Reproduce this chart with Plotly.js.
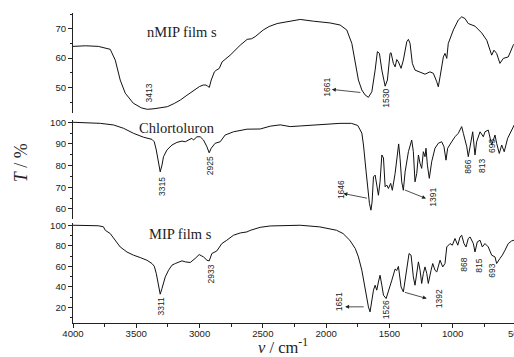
<!DOCTYPE html>
<html><head><meta charset="utf-8">
<script src="https://cdn.plot.ly/plotly-3.0.1.min.js"></script>
<style>html,body{margin:0;padding:0;overflow:hidden;background:#fff;width:514px;height:357px}</style>
</head><body><div id="chart" style="width:520px;height:357px"></div>
<script>
// nMIP film s (top panel)
const nmipWn = [4000,3900,3800,3750,3706,3666,3627,3587,3524,3460,
  3413,3360,3311,3255,3200,3151,3100,3050,3000,2971,
  2950,2939,2923,2908,2883,2870,2844,2822,2758,2679,
  2624,2590,2561,2497,2450,2387,2284,2205,2100,1969,
  1890,1837,1797,1771,1745,1718,1692,1666,1639,1613,
  1595,1579,1560,1534,1516,1495,1487,1469,1455,1442,
  1429,1408,1390,1363,1350,1337,1319,1298,1259,1219,
  1180,1153,1126,1114,1100,1074,1061,1047,1035,995,
  956,929,903,877,824,771,731,705,692,674,
  653,627,600,561,522,500];
const nmipT = [64,64.2,64,63.6,63,59.3,52.5,48,44.6,43,
  42.5,42.7,43,43.4,44.5,45.7,47.3,48.8,50.3,50.8,
  50.8,50.5,50,52.5,55.3,55.8,56.5,58.7,61,64.4,
  66.4,66.6,67.3,69.6,70.8,71.8,72.7,73.2,72.6,72,
  71.3,69.6,65,59.3,52.5,49.1,47.4,46.6,48.5,55.9,
  62.2,61.6,55.9,50.4,52.5,61.6,61.8,58.2,57,59.5,
  58.7,56.5,59.3,65.6,66.4,65,58.2,55.9,55.1,54.5,
  55.3,54.8,51.9,50.2,53.6,60.4,61.6,59.9,65,69.6,
  73,74.1,73.5,71.8,70.9,68.6,66.1,62.7,61,62.7,
  61.6,58.2,59.9,60.4,64.4,65.5];

// Chlortoluron (middle panel)
const chlWn = [4000,3784,3679,3600,3522,3443,3376,3358,3342,3329,
  3316,3311,3297,3285,3258,3218,3179,3139,3113,3087,
  3061,3048,3021,2995,2969,2942,2924,2908,2877,2837,
  2798,2732,2626,2521,2442,2363,2284,2205,2050,1890,
  1800,1750,1718,1705,1684,1670,1658,1646,1637,1626,
  1613,1600,1587,1574,1560,1547,1534,1521,1508,1490,
  1477,1455,1437,1427,1416,1403,1390,1376,1350,1324,
  1311,1298,1284,1271,1258,1245,1232,1219,1211,1200,
  1185,1166,1140,1114,1087,1069,1053,1040,1008,982,
  956,929,916,889,877,858,842,824,811,784,
  758,745,719,692,666,653,632,613,593,566,
  534,514,500];
const chlT = [100,99.5,98.75,97.2,94.9,93.1,92.1,91,87.2,82.5,
  78.7,77.1,80.2,84.1,87.2,89.5,90.7,91.3,91,91.8,
  92.6,91.8,93.3,93.3,91.8,88.7,85.9,88,90.3,91,
  94.1,95.6,96.8,96.9,98.2,98.8,98,98.3,99,99.5,
  99.5,98.5,95,89.5,77.1,69.4,62.5,59.4,63.2,74.8,
  75.6,71,66.3,72.5,84.9,83.5,70.2,71,69.4,71.8,
  68.6,76.4,86,90,83.3,72.5,68.6,77.1,86.4,91.8,
  86.4,72.5,76.4,84.9,81,78.7,86.4,84.1,88,80.2,
  74.1,81.8,88,90.3,91,88.7,82.5,88,91,93.3,
  94.9,98,94.9,88.7,84.1,91,95.6,84.9,91,95.6,
  93.3,95.6,96.4,89.5,94.1,90.3,85.6,89.5,86.4,92.6,
  96.4,98.75,99];

// MIP film s (bottom panel)
const mipWn = [4000,3900,3800,3760,3745,3706,3666,3627,3574,3522,
  3469,3416,3376,3358,3342,3329,3316,3311,3297,3271,
  3245,3218,3192,3166,3139,3113,3074,3035,3003,2969,
  2942,2924,2903,2864,2824,2785,2732,2679,2626,2600,
  2521,2442,2363,2205,2050,1918,1866,1813,1770,1745,
  1718,1700,1684,1666,1653,1639,1626,1613,1600,1587,
  1574,1560,1547,1526,1508,1481,1455,1442,1429,1408,
  1390,1363,1345,1329,1311,1298,1284,1271,1258,1245,
  1232,1219,1205,1193,1171,1158,1140,1126,1100,1079,
  1061,1047,1021,1003,982,960,942,929,911,895,
  877,863,837,824,806,784,766,745,719,692,
  666,653,627,608,587,561,534,516,500];
const mipT = [100,99.8,99.5,98.5,95.1,91.9,85.4,78.9,74,70.9,
  68.6,66,62.8,60.2,53.1,43.4,35.2,33,38.5,49.8,
  56.3,61.2,62.8,64.4,65.4,64.4,63.8,67.7,71.5,69.2,
  66,65.3,72.5,75,82.2,85.4,90.3,92.5,93.5,95,
  98,99.3,99.5,100,98.4,95.1,91.9,85.4,77.4,69.2,
  56.3,43.4,30.4,20.7,15.8,27.2,36.9,41.7,36.9,44.9,
  51.4,41.7,32,28.8,36.9,46.6,57.5,56,60,40.1,
  35.2,56.3,72.5,70.9,49.8,41.7,56.3,64.4,56.3,43.4,
  53.1,59.5,53.1,43.4,56.3,62.8,56.3,54.6,66,59.5,
  62.8,78.9,82.2,80.6,87.1,80.6,88.6,90.3,82.2,78.9,
  87.1,88.6,82.2,74,83.8,85.4,78.9,82.2,78.9,70.9,
  69.2,62.8,67.7,70.9,75.7,82.2,84.8,85.4,86];

// Panel names and peak labels
const panelNames = ["nMIP film s", "Chlortoluron", "MIP film s"];
const panelNamePos = [[3137, 68.9, 'y3'], [3177, 97.4, 'y2'], [3153, 91.3, 'y']];
const peakLabels = ["3413","1661","1530","3315","2925","1646","1391","866","813","693",
                    "3311","2933","1651","1526","1392","868","815","693"];
const peakPos = [[3397,48.0,'y3'],[1996,50.1,'y3'],[1523,46.3,'y3'],
  [3299,70.5,'y2'],[2916,79.8,'y2'],[1882,68.7,'y2'],[1151,65.4,'y2'],[875,79.3,'y2'],[773,80,'y2'],[686,89.3,'y2'],
  [3303,21.3,'y'],[2908,52.4,'y'],[1898,25.2,'y'],[1527,17.5,'y'],[1108,28.1,'y'],[911,61.6,'y'],[792,60.6,'y'],[686,56.3,'y']];
// arrows: [headWn, headT, tailWn, tailT, yref]
const arrows = [[1955,49.3,1718,48.2,'y3'],[1864,67.1,1666,64.8,'y2'],[1211,64.8,1390,69,'y2'],
  [1850,20.7,1692,20.7,'y'],[1205,28.8,1390,35.2,'y']];

const lineStyle = {color:'#111', width:1};
const traces = [
  {x:nmipWn, y:nmipT, xaxis:'x', yaxis:'y3', type:'scatter', mode:'lines', line:lineStyle, hoverinfo:'skip'},
  {x:chlWn, y:chlT, xaxis:'x', yaxis:'y2', type:'scatter', mode:'lines', line:lineStyle, hoverinfo:'skip'},
  {x:mipWn, y:mipT, xaxis:'x', yaxis:'y', type:'scatter', mode:'lines', line:lineStyle, hoverinfo:'skip'}
];

const tickFont = {family:'Liberation Sans, Arial, sans-serif', size:9.6, color:'#222'};
function yax(domain, range, dtick, minorDtick) {
  return {domain:domain, range:range, dtick:dtick, tick0:0, anchor:'x',
    showline:true, linecolor:'#222', linewidth:1, ticks:'outside', ticklen:4, tickwidth:1, tickcolor:'#222',
    minor:{dtick:minorDtick, ticks:'outside', ticklen:2, tickwidth:1, tickcolor:'#222'},
    showgrid:false, zeroline:false, tickfont:tickFont, automargin:false, fixedrange:true};
}

const annotations = [];
panelNames.forEach((t,i)=>{
  annotations.push({text:t, x:panelNamePos[i][0], y:panelNamePos[i][1], xref:'x', yref:panelNamePos[i][2],
    showarrow:false, font:{family:'Liberation Serif, Times New Roman, serif', size:14.5, color:'#222'}});
});
peakLabels.forEach((t,i)=>{
  annotations.push({text:t, x:peakPos[i][0], y:peakPos[i][1], xref:'x', yref:peakPos[i][2],
    showarrow:false, textangle:-90, font:{family:'Liberation Sans, Arial, sans-serif', size:8.5, color:'#222'}});
});
arrows.forEach(a=>{
  annotations.push({text:'', x:a[0], y:a[1], ax:a[2], ay:a[3], xref:'x', yref:a[4], axref:'x', ayref:a[4],
    showarrow:true, arrowhead:2, arrowsize:1, arrowwidth:0.8, arrowcolor:'#222', standoff:0, startstandoff:0});
});
annotations.push({text:'<i>T</i> / %', xref:'paper', yref:'paper', x:-0.117, y:0.516, textangle:-90,
  xanchor:'center', yanchor:'middle',
  showarrow:false, font:{family:'Liberation Serif, Times New Roman, serif', size:18, color:'#222'}});
annotations.push({text:'<i>ν</i> / cm<sup>-1</sup>', xref:'paper', yref:'paper', x:0.474, y:-0.077,
  xanchor:'center', yanchor:'middle',
  showarrow:false, font:{family:'Liberation Serif, Times New Roman, serif', size:16.5, color:'#222'}});

const layout = {
  width:520, height:357,
  margin:{l:73, r:4, t:13, b:34},
  paper_bgcolor:'#fff', plot_bgcolor:'#fff',
  showlegend:false,
  xaxis:{range:[4000,500], dtick:500, tick0:0, anchor:'y', showline:true, linecolor:'#222', linewidth:1,
    ticks:'outside', ticklen:4, tickwidth:1, tickcolor:'#222', ticklabelstandoff:-3, ticklabeloverflow:'allow',
    minor:{dtick:250, ticks:'outside', ticklen:3, tickwidth:1, tickcolor:'#222'},
    showgrid:false, zeroline:false, tickfont:tickFont, automargin:false, fixedrange:true},
  yaxis: yax([0, 0.322], [5, 102], 20, 10),
  yaxis2: yax([0.336, 0.6545], [55.4, 101], 10, 5),
  yaxis3: yax([0.677, 1], [41.2, 75.4], 10, 5),
  annotations: annotations
};
Plotly.newPlot('chart', traces, layout, {staticPlot:true, displayModeBar:false});
</script></body></html>
